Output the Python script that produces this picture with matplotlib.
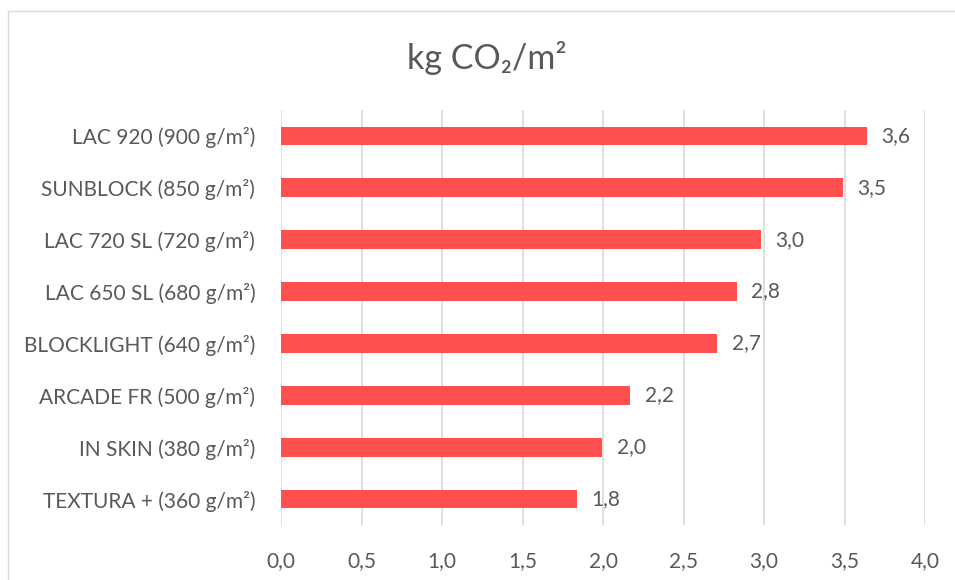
import matplotlib.pyplot as plt
from matplotlib.patches import Rectangle

plt.rcParams['font.family'] = ['Lato', 'DejaVu Sans']

products = ['LAC 920 (900 g/m²)', 'SUNBLOCK (850 g/m²)', 'LAC 720 SL (720 g/m²)',
            'LAC 650 SL (680 g/m²)', 'BLOCKLIGHT (640 g/m²)', 'ARCADE FR (500 g/m²)',
            'IN SKIN (380 g/m²)', 'TEXTURA + (360 g/m²)']
co2 = [3.64, 3.49, 2.98, 2.83, 2.71, 2.17, 1.995, 1.84]
ticks = [0.0, 0.5, 1.0, 1.5, 2.0, 2.5, 3.0, 3.5, 4.0]

grey = '#595959'
red = '#FF4F4F'

fig = plt.figure(figsize=(9.55, 5.8), dpi=100)
fig.patches.append(Rectangle((8 / 955, -0.1), 1.2, 1 - 11 / 580 + 0.1,
                             transform=fig.transFigure, fill=False,
                             edgecolor='#D9D9D9', linewidth=1))

ax = fig.add_axes([281 / 955, 1 - 525 / 580, 644 / 955, 415 / 580])
pos = list(range(len(products)))[::-1]
ax.barh(pos, co2, height=0.36, color=red, zorder=3)
for p, v in zip(pos, co2):
    ax.text(v + 0.09, p, f'{v:.1f}'.replace('.', ','), va='center', ha='left',
            fontsize=15, color=grey)

ax.set_xlim(0, 4.0)
ax.set_ylim(-0.5, len(products) - 0.5)
ax.set_xticks(ticks)
ax.set_xticklabels([f'{t:.1f}'.replace('.', ',') for t in ticks])
ax.set_yticks(pos)
ax.set_yticklabels(products)
ax.grid(axis='x', color='#D9D9D9', linewidth=1.2, zorder=0)
ax.tick_params(length=0, labelsize=15, labelcolor=grey)
ax.tick_params(axis='x', pad=19)
ax.tick_params(axis='y', pad=18.5)
for s in ax.spines.values():
    s.set_visible(False)

fig.text(487 / 955, 1 - 58 / 580, 'kg CO₂/m²', ha='center', va='center',
         fontsize=24.5, color=grey)

fig.savefig('out.png', dpi=100)
